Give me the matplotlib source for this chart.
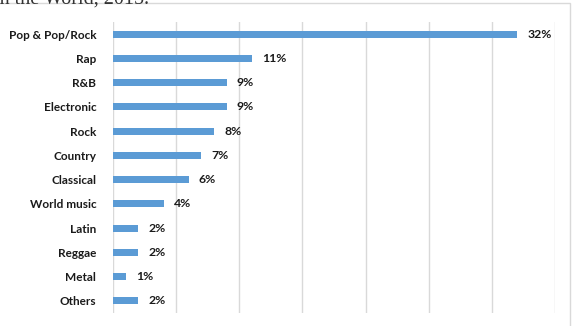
import matplotlib.pyplot as plt
from matplotlib.patches import Rectangle

# genres and share (%)
genres = ['Pop & Pop/Rock', 'Rap', 'R&B', 'Electronic', 'Rock', 'Country',
          'Classical', 'World music', 'Latin', 'Reggae', 'Metal', 'Others']
shares = [32, 11, 9, 9, 8, 7, 6, 4, 2, 2, 1, 2]

fig = plt.figure(figsize=(5.75, 3.26), dpi=100)

# chart frame (light grey box, clipped by the image edges)
fig.patches.append(Rectangle((-0.01, -0.01), 0.006 + 0.9957, 1.01 - 6 / 326 + 0.01,
                             transform=fig.transFigure, fill=False,
                             edgecolor='#D9D9D9', linewidth=1))

# caption text cut off at the top
fig.text(149 / 575, 1 - 4 / 326, 'in the World, 2015.', family='Liberation Serif',
         fontsize=14.5, color='#333333', va='baseline', ha='right')

ax = fig.add_axes([113 / 575, 1 - 313 / 326, 442 / 575, 291 / 326])
pos = list(range(len(genres)))
ax.barh(pos, shares, height=0.29, color='#5B9BD5', zorder=3)

for p, s in zip(pos, shares):
    ax.text(s + 0.8, p, f'{s}%', va='center', ha='left', fontsize=8.8,
            fontweight='bold', family='Lato', color='#1a1a1a')

ax.set_yticks(pos)
ax.set_yticklabels(genres, fontsize=8.5, fontweight='bold', family='Lato', color='#1a1a1a')
ax.tick_params(axis='y', length=0, pad=12)
ax.set_ylim(len(genres) - 0.5, -0.5)

ax.set_xlim(0, 35)
ax.set_xticks(range(0, 36, 5))
ax.set_xticklabels([])
ax.tick_params(axis='x', length=0)
ax.grid(axis='x', color='#D9D9D9', linewidth=1, zorder=0)

for sp in ax.spines.values():
    sp.set_visible(False)

fig.savefig('out.png', dpi=100)
